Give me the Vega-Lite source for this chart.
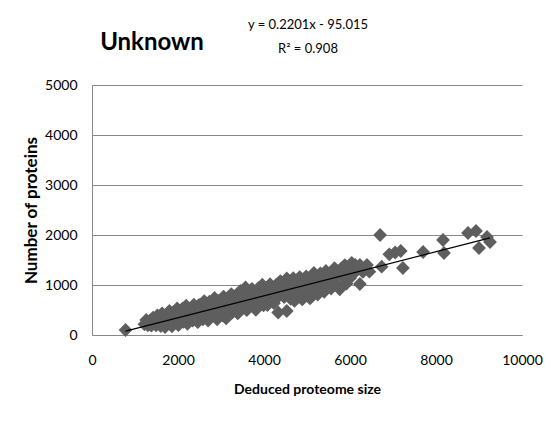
{
  "$schema": "https://vega.github.io/schema/vega-lite/v6.json",
  "width": 430,
  "height": 250,
  "autosize": {"type": "none"},
  "padding": {"left": 92, "top": 85, "right": 36, "bottom": 90},
  "background": "white",
  "config": {"font": "Lato", "view": {"stroke": null}},
  "datasets": {
    "points": [
      {"x":780,"y":100},{"x":1220,"y":214},{"x":1260,"y":302},{"x":1300,"y":191},{"x":1340,"y":280},{"x":1380,"y":189},{"x":1420,"y":348},{"x":1450,"y":264},{"x":1490,"y":193},{"x":1520,"y":390},{"x":1560,"y":308},{"x":1600,"y":177},{"x":1630,"y":434},{"x":1660,"y":280},{"x":1700,"y":159},{"x":1730,"y":386},{"x":1760,"y":252},{"x":1800,"y":481},{"x":1830,"y":358},{"x":1860,"y":174},{"x":1890,"y":451},{"x":1920,"y":268},{"x":1950,"y":354},{"x":1980,"y":531},{"x":2010,"y":197},{"x":2040,"y":444},{"x":2070,"y":331},{"x":2100,"y":527},{"x":2130,"y":264},{"x":2160,"y":420},{"x":2190,"y":587},{"x":2220,"y":224},{"x":2250,"y":350},{"x":2280,"y":527},{"x":2310,"y":423},{"x":2340,"y":290},{"x":2370,"y":607},{"x":2400,"y":363},{"x":2430,"y":510},{"x":2460,"y":256},{"x":2490,"y":603},{"x":2520,"y":440},{"x":2550,"y":566},{"x":2580,"y":313},{"x":2610,"y":679},{"x":2640,"y":406},{"x":2670,"y":533},{"x":2700,"y":289},{"x":2730,"y":666},{"x":2760,"y":472},{"x":2790,"y":609},{"x":2820,"y":386},{"x":2850,"y":742},{"x":2880,"y":539},{"x":2910,"y":315},{"x":2940,"y":682},{"x":2970,"y":469},{"x":3000,"y":625},{"x":3030,"y":392},{"x":3060,"y":768},{"x":3090,"y":565},{"x":3120,"y":332},{"x":3150,"y":718},{"x":3180,"y":495},{"x":3210,"y":642},{"x":3240,"y":818},{"x":3270,"y":455},{"x":3300,"y":711},{"x":3330,"y":578},{"x":3360,"y":795},{"x":3390,"y":431},{"x":3420,"y":668},{"x":3450,"y":884},{"x":3480,"y":541},{"x":3510,"y":778},{"x":3540,"y":644},{"x":3570,"y":951},{"x":3600,"y":497},{"x":3630,"y":844},{"x":3660,"y":621},{"x":3690,"y":767},{"x":3720,"y":924},{"x":3750,"y":580},{"x":3780,"y":847},{"x":3810,"y":504},{"x":3840,"y":750},{"x":3870,"y":937},{"x":3900,"y":653},{"x":3930,"y":840},{"x":3960,"y":1007},{"x":3990,"y":593},{"x":4020,"y":750},{"x":4050,"y":936},{"x":4080,"y":600},{"x":4110,"y":850},{"x":4140,"y":1016},{"x":4170,"y":703},{"x":4200,"y":919},{"x":4230,"y":636},{"x":4260,"y":823},{"x":4290,"y":1009},{"x":4320,"y":756},{"x":4330,"y":450},{"x":4350,"y":922},{"x":4380,"y":1079},{"x":4410,"y":816},{"x":4440,"y":1002},{"x":4470,"y":759},{"x":4500,"y":915},{"x":4530,"y":480},{"x":4530,"y":1132},{"x":4560,"y":819},{"x":4590,"y":1065},{"x":4620,"y":722},{"x":4650,"y":968},{"x":4680,"y":1135},{"x":4710,"y":682},{"x":4740,"y":908},{"x":4770,"y":1065},{"x":4800,"y":811},{"x":4830,"y":1158},{"x":4860,"y":975},{"x":4890,"y":711},{"x":4920,"y":1068},{"x":4950,"y":895},{"x":4980,"y":1171},{"x":5010,"y":788},{"x":5040,"y":1044},{"x":5070,"y":731},{"x":5100,"y":1158},{"x":5130,"y":974},{"x":5160,"y":1241},{"x":5190,"y":877},{"x":5220,"y":1124},{"x":5250,"y":810},{"x":5280,"y":1047},{"x":5310,"y":1234},{"x":5340,"y":960},{"x":5370,"y":1137},{"x":5400,"y":864},{"x":5440,"y":1282},{"x":5480,"y":1051},{"x":5520,"y":1220},{"x":5560,"y":929},{"x":5600,"y":1158},{"x":5640,"y":1336},{"x":5680,"y":1015},{"x":5720,"y":1244},{"x":5760,"y":913},{"x":5800,"y":1332},{"x":5840,"y":1150},{"x":5880,"y":1399},{"x":5920,"y":1028},{"x":5960,"y":1277},{"x":6000,"y":1136},{"x":6040,"y":1444},{"x":6080,"y":1223},{"x":6120,"y":1402},{"x":6230,"y":1020},{"x":6200,"y":1350},{"x":6230,"y":1400},{"x":6300,"y":1262},{"x":6395,"y":1400},{"x":6450,"y":1267},{"x":6700,"y":2000},{"x":6737,"y":1367},{"x":6914,"y":1613},{"x":7050,"y":1650},{"x":7180,"y":1680},{"x":7230,"y":1340},{"x":7700,"y":1660},{"x":8163,"y":1900},{"x":8186,"y":1640},{"x":8744,"y":2040},{"x":8930,"y":2080},{"x":9000,"y":1740},{"x":9186,"y":1960},{"x":9256,"y":1860}
    ],
    "trend": [{"x": 780, "y": 77}, {"x": 9256, "y": 1942}],
    "eq": [{"x": 5023, "y": 6200, "label": "y = 0.2201x - 95.015"}, {"x": 5023, "y": 5720, "label": "R² = 0.908"}],
    "heading": [{"x": 1395, "y": 5840, "label": "Unknown"}]
  },
  "layer": [
    {
      "data": {"name": "points"},
      "mark": {"type": "point", "shape": "diamond", "filled": true, "size": 190, "color": "#5e5e5e", "opacity": 1},
      "encoding": {
        "x": {"field": "x", "type": "quantitative",
          "scale": {"domain": [0, 10000], "nice": false, "zero": false},
          "axis": {"values": [0, 2000, 4000, 6000, 8000, 10000], "format": "d", "grid": false, "ticks": false, "domain": true, "domainColor": "#888888", "labelFontSize": 14, "labelColor": "#000000", "labelPadding": 18, "title": "Deduced proteome size", "titleFontSize": 14, "titleFontWeight": "bold", "titleColor": "#000000", "titlePadding": 15, "labelFlush": false}},
        "y": {"field": "y", "type": "quantitative",
          "scale": {"domain": [0, 5000], "nice": false},
          "axis": {"values": [0, 1000, 2000, 3000, 4000, 5000], "format": "d", "grid": true, "gridColor": "#888888", "ticks": false, "domain": true, "domainColor": "#888888", "labelFontSize": 14, "labelColor": "#000000", "labelPadding": 15, "title": "Number of proteins", "titleFontSize": 17, "titleFontWeight": "bold", "titleColor": "#000000", "titlePadding": 4}}
      }
    },
    {
      "data": {"name": "trend"},
      "mark": {"type": "line", "color": "#000000", "strokeWidth": 1.2},
      "encoding": {
        "x": {"field": "x", "type": "quantitative"},
        "y": {"field": "y", "type": "quantitative"}
      }
    },
    {
      "data": {"name": "eq"},
      "mark": {"type": "text", "fontSize": 13, "color": "#000000", "align": "center", "baseline": "middle"},
      "encoding": {
        "x": {"field": "x", "type": "quantitative"},
        "y": {"field": "y", "type": "quantitative"},
        "text": {"field": "label"}
      }
    },
    {
      "data": {"name": "heading"},
      "mark": {"type": "text", "fontSize": 24, "fontWeight": "bold", "color": "#000000", "align": "center", "baseline": "middle"},
      "encoding": {
        "x": {"field": "x", "type": "quantitative"},
        "y": {"field": "y", "type": "quantitative"},
        "text": {"field": "label"}
      }
    }
  ]
}
